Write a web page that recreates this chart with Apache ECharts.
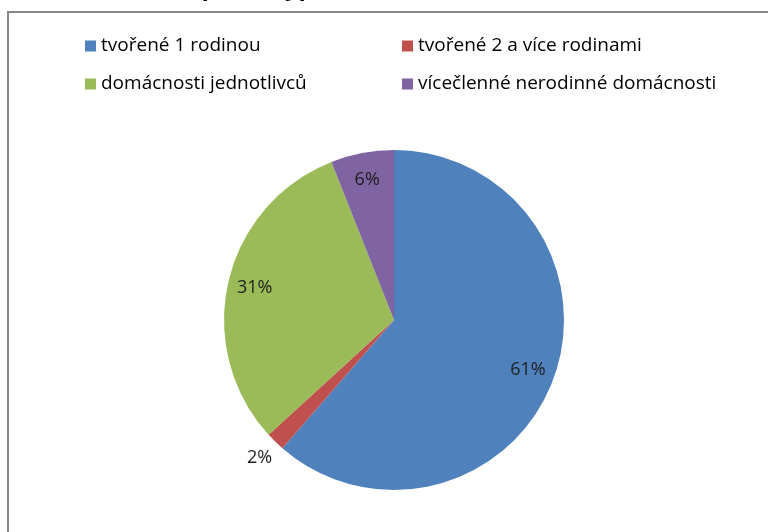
<!DOCTYPE html>
<html>
<head>
  <meta charset="UTF-8">
  <title>Domácnosti podle typu</title>
  <style>
    html, body { margin: 0; padding: 0; background: #fff; }
    #chart { width: 768px; height: 532px; }
  </style>
  <script src="https://cdn.jsdelivr.net/npm/echarts@6/dist/echarts.min.js"></script>
</head>
<body>
  <div id="chart"></div>
  <script>
    var titleText = 'Domácnosti podle typu';
    var categories = ['tvořené 1 rodinou', 'tvořené 2 a více rodinami', 'domácnosti jednotlivců', 'vícečlenné nerodinné domácnosti'];
    var shares = [61.4, 1.8, 30.8, 6.0];
    var colors = ['#4F81BD', '#C0504D', '#9BBB59', '#8064A2'];

    var font = '"Open Sans", sans-serif';
    var chart = echarts.init(document.getElementById('chart'));

    // male vysece maji popisek venku, ostatni uvnitr
    function isSmall(i) { return shares[i] < 3; }

    var pieData = categories.map(function (c, i) {
      return {
        name: c,
        value: shares[i],
        itemStyle: { color: colors[i] },
        label: { show: isSmall(i), position: 'outside' }
      };
    });

    var labelData = categories.map(function (c, i) {
      return {
        name: c,
        value: shares[i],
        label: { show: !isSmall(i) }
      };
    });

    var legendText = { fontFamily: font, fontSize: 19, color: '#000', lineHeight: 20 };

    var option = {
      animation: false,
      title: {
        text: titleText,
        left: 52,
        top: -24,
        padding: 0,
        textStyle: { fontFamily: font, fontSize: 24, fontWeight: 'bold', color: '#000' }
      },
      graphic: [{
        type: 'rect',
        shape: { x: 8, y: 12, width: 900, height: 700 },
        style: { fill: 'none', stroke: '#878787', lineWidth: 2 },
        silent: true
      }],
      legend: [{
        orient: 'vertical',
        left: 85,
        top: 36,
        padding: 0,
        itemGap: 18,
        itemWidth: 11,
        itemHeight: 11,
        icon: 'rect',
        selectedMode: false,
        textStyle: legendText,
        data: [categories[0], categories[2]]
      }, {
        orient: 'vertical',
        left: 402,
        top: 36,
        padding: 0,
        itemGap: 18,
        itemWidth: 11,
        itemHeight: 11,
        icon: 'rect',
        selectedMode: false,
        textStyle: legendText,
        data: [categories[1], categories[3]]
      }],
      series: [{
        name: 'typ',
        type: 'pie',
        center: [394, 320],
        radius: 170,
        startAngle: 90,
        clockwise: true,
        percentPrecision: 0,
        emphasis: { disabled: true },
        itemStyle: { borderWidth: 0 },
        label: {
          formatter: '{d}%',
          fontFamily: font,
          fontSize: 18,
          color: '#1e1e1e',
          distanceToLabelLine: -13
        },
        labelLine: { show: false, length: 23, length2: 0 },
        data: pieData
      }, {
        // pruhledny kruh jen kvuli umisteni popisku blize k okraji
        name: 'popisky',
        type: 'pie',
        center: [394, 320],
        radius: 280,
        startAngle: 90,
        clockwise: true,
        percentPrecision: 0,
        silent: true,
        emphasis: { disabled: true },
        itemStyle: { color: 'rgba(0,0,0,0)', borderWidth: 0 },
        label: {
          position: 'inside',
          formatter: '{d}%',
          fontFamily: font,
          fontSize: 18,
          color: '#1e1e1e'
        },
        data: labelData
      }]
    };
    chart.setOption(option);
  </script>
</body>
</html>
